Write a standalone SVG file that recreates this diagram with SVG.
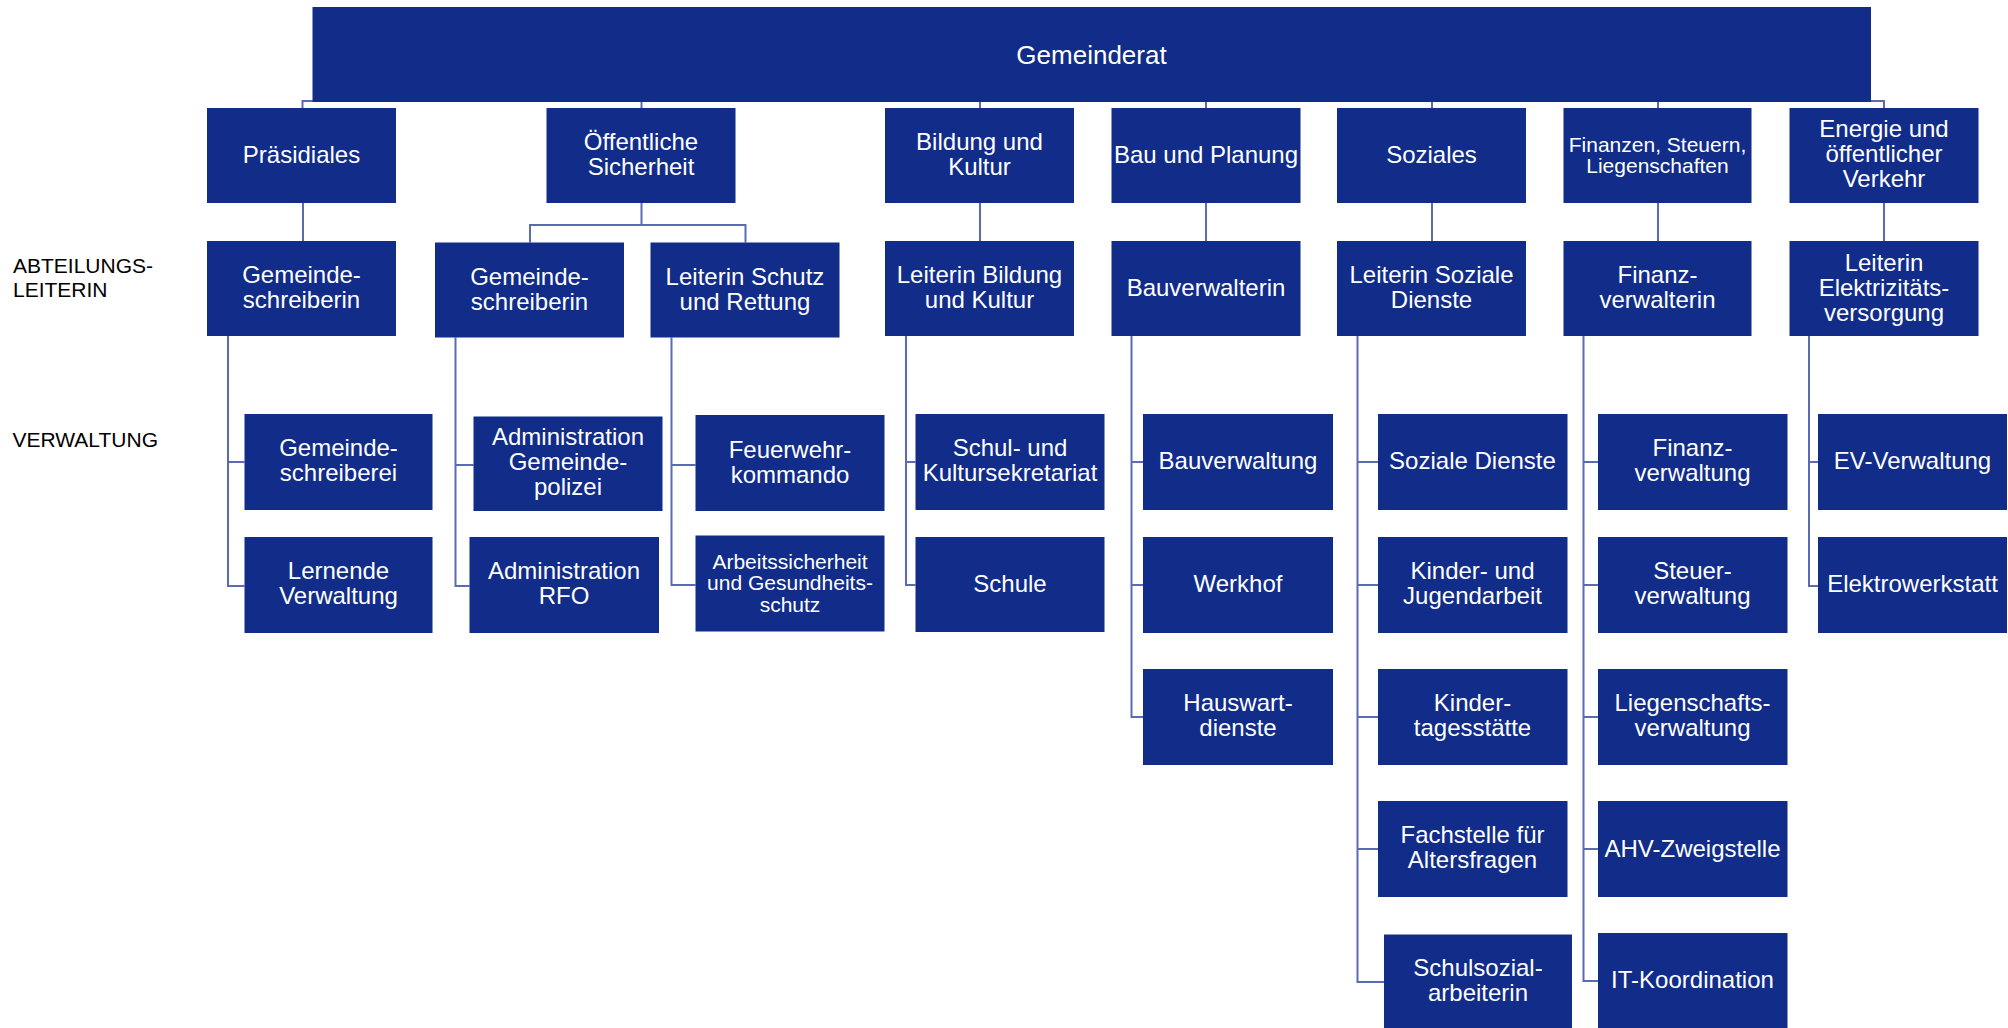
<svg xmlns="http://www.w3.org/2000/svg" width="2008" height="1028" viewBox="0 0 2008 1028">
<style>
.b{fill:#112C89}
.t{fill:#ffffff;font-family:"Liberation Sans",Arial,sans-serif;font-size:24px;text-anchor:middle}
.s{font-size:21px}
.g{font-size:26px}
.lbl{fill:#000000;font-family:"Liberation Sans",Arial,sans-serif;font-size:21px}
.c{fill:none;stroke:#5a6bb3;stroke-width:2}
</style>
<rect width="2008" height="1028" fill="#ffffff"/>
<g id="connectors" class="c">
<path d="M302.5 108V101H313"/>
<path d="M641.5 102V108M980 102V108M1206 102V108M1432 102V108M1658 102V108"/>
<path d="M1884 108V101H1871"/>
<path d="M303 203V241"/>
<path d="M641.5 203V225M530 242.5V225H745.5V242.5"/>
<path d="M980 203V241M1206 203V241M1432 203V241M1658 203V241M1884 203V241"/>
<path d="M228 336V586H244.5M228 462H244.5"/>
<path d="M455.5 337.5V586H469.5M455.5 465H473.5"/>
<path d="M671.5 337.5V585H695.5M671.5 465H695.5"/>
<path d="M906 336V585H915.5M906 462H915.5"/>
<path d="M1131.5 336V717H1143M1131.5 462H1143M1131.5 585H1143"/>
<path d="M1357.5 336V982H1384M1357.5 462H1378M1357.5 585H1378M1357.5 717H1378M1357.5 849H1378"/>
<path d="M1583.5 336V981H1598M1583.5 462H1598M1583.5 585H1598M1583.5 717H1598M1583.5 849H1598"/>
<path d="M1809 336V586H1818M1809 462H1818"/>
</g>
<g id="gemeinderat"><rect class="b" x="312.5" y="7" width="1558.5" height="95"/><text class="t g" x="1091.5" y="63.5">Gemeinderat</text></g>
<g id="praesidiales"><rect class="b" x="207" y="108" width="189" height="95"/><text class="t" x="301.5" y="162.5">Präsidiales</text></g>
<g id="oeffentliche-sicherheit"><rect class="b" x="546.5" y="108" width="189" height="95"/><text class="t" x="641" y="149.5">Öffentliche</text><text class="t" x="641" y="174.5">Sicherheit</text></g>
<g id="bildung-kultur"><rect class="b" x="885" y="108" width="189" height="95"/><text class="t" x="979.5" y="149.5">Bildung und</text><text class="t" x="979.5" y="174.5">Kultur</text></g>
<g id="bau-planung"><rect class="b" x="1111.5" y="108" width="189" height="95"/><text class="t" x="1206" y="162.5">Bau und Planung</text></g>
<g id="soziales"><rect class="b" x="1337" y="108" width="189" height="95"/><text class="t" x="1431.5" y="162.5">Soziales</text></g>
<g id="finanzen"><rect class="b" x="1563.5" y="108" width="188" height="95"/><text class="t s" x="1657.5" y="152">Finanzen, Steuern,</text><text class="t s" x="1657.5" y="173">Liegenschaften</text></g>
<g id="energie"><rect class="b" x="1789.5" y="108" width="189" height="95"/><text class="t" x="1884" y="137">Energie und</text><text class="t" x="1884" y="162">öffentlicher</text><text class="t" x="1884" y="187">Verkehr</text></g>

<g id="gemeindeschreiberin-1"><rect class="b" x="207" y="241" width="189" height="95"/><text class="t" x="301.5" y="283">Gemeinde-</text><text class="t" x="301.5" y="308">schreiberin</text></g>
<g id="gemeindeschreiberin-2"><rect class="b" x="435" y="242.5" width="189" height="95"/><text class="t" x="529.5" y="284.5">Gemeinde-</text><text class="t" x="529.5" y="309.5">schreiberin</text></g>
<g id="leiterin-schutz"><rect class="b" x="650.5" y="242.5" width="189" height="95"/><text class="t" x="745" y="284.5">Leiterin Schutz</text><text class="t" x="745" y="309.5">und Rettung</text></g>
<g id="leiterin-bildung"><rect class="b" x="885" y="241" width="189" height="95"/><text class="t" x="979.5" y="283">Leiterin Bildung</text><text class="t" x="979.5" y="308">und Kultur</text></g>
<g id="bauverwalterin"><rect class="b" x="1111.5" y="241" width="189" height="95"/><text class="t" x="1206" y="295.5">Bauverwalterin</text></g>
<g id="leiterin-soziale"><rect class="b" x="1337" y="241" width="189" height="95"/><text class="t" x="1431.5" y="283">Leiterin Soziale</text><text class="t" x="1431.5" y="308">Dienste</text></g>
<g id="finanzverwalterin"><rect class="b" x="1563.5" y="241" width="188" height="95"/><text class="t" x="1657.5" y="283">Finanz-</text><text class="t" x="1657.5" y="308">verwalterin</text></g>
<g id="leiterin-elektrizitaet"><rect class="b" x="1789.5" y="241" width="189" height="95"/><text class="t" x="1884" y="270.5">Leiterin</text><text class="t" x="1884" y="295.5">Elektrizitäts-</text><text class="t" x="1884" y="320.5">versorgung</text></g>

<g id="gemeindeschreiberei"><rect class="b" x="244.5" y="414" width="188" height="96"/><text class="t" x="338.5" y="456">Gemeinde-</text><text class="t" x="338.5" y="481">schreiberei</text></g>
<g id="lernende-verwaltung"><rect class="b" x="244.5" y="537" width="188" height="96"/><text class="t" x="338.5" y="579">Lernende</text><text class="t" x="338.5" y="604">Verwaltung</text></g>
<g id="admin-gemeindepolizei"><rect class="b" x="473.5" y="416.5" width="189" height="94.5"/><text class="t" x="568" y="445">Administration</text><text class="t" x="568" y="470">Gemeinde-</text><text class="t" x="568" y="495">polizei</text></g>
<g id="admin-rfo"><rect class="b" x="469.5" y="537" width="189.5" height="96"/><text class="t" x="564" y="579">Administration</text><text class="t" x="564" y="604">RFO</text></g>
<g id="feuerwehrkommando"><rect class="b" x="695.5" y="415" width="189" height="96"/><text class="t" x="790" y="458">Feuerwehr-</text><text class="t" x="790" y="483">kommando</text></g>
<g id="arbeitssicherheit"><rect class="b" x="695.5" y="535.5" width="189" height="96"/><text class="t s" x="790" y="568.5">Arbeitssicherheit</text><text class="t s" x="790" y="590">und Gesundheits-</text><text class="t s" x="790" y="611.5">schutz</text></g>
<g id="schul-kultursekretariat"><rect class="b" x="915.5" y="414" width="189" height="96"/><text class="t" x="1010" y="456">Schul- und</text><text class="t" x="1010" y="481">Kultursekretariat</text></g>
<g id="schule"><rect class="b" x="915.5" y="537" width="189" height="95"/><text class="t" x="1010" y="591.5">Schule</text></g>
<g id="bauverwaltung"><rect class="b" x="1143" y="414" width="190" height="96"/><text class="t" x="1238" y="468.5">Bauverwaltung</text></g>
<g id="werkhof"><rect class="b" x="1143" y="537" width="190" height="96"/><text class="t" x="1238" y="592">Werkhof</text></g>
<g id="hauswartdienste"><rect class="b" x="1143" y="669" width="190" height="96"/><text class="t" x="1238" y="711">Hauswart-</text><text class="t" x="1238" y="736">dienste</text></g>
<g id="soziale-dienste"><rect class="b" x="1378" y="414" width="189.5" height="96"/><text class="t" x="1472.5" y="469">Soziale Dienste</text></g>
<g id="kinder-jugendarbeit"><rect class="b" x="1378" y="537" width="189.5" height="96"/><text class="t" x="1472.5" y="579">Kinder- und</text><text class="t" x="1472.5" y="604">Jugendarbeit</text></g>
<g id="kindertagesstaette"><rect class="b" x="1378" y="669" width="189.5" height="96"/><text class="t" x="1472.5" y="711">Kinder-</text><text class="t" x="1472.5" y="736">tagesstätte</text></g>
<g id="fachstelle-altersfragen"><rect class="b" x="1378" y="801" width="189.5" height="96"/><text class="t" x="1472.5" y="843">Fachstelle für</text><text class="t" x="1472.5" y="868">Altersfragen</text></g>
<g id="schulsozialarbeiterin"><rect class="b" x="1384" y="934.5" width="188" height="96"/><text class="t" x="1478" y="976">Schulsozial-</text><text class="t" x="1478" y="1001">arbeiterin</text></g>
<g id="finanzverwaltung"><rect class="b" x="1598" y="414" width="189.5" height="96"/><text class="t" x="1692.5" y="456">Finanz-</text><text class="t" x="1692.5" y="481">verwaltung</text></g>
<g id="steuerverwaltung"><rect class="b" x="1598" y="537" width="189.5" height="96"/><text class="t" x="1692.5" y="579">Steuer-</text><text class="t" x="1692.5" y="604">verwaltung</text></g>
<g id="liegenschaftsverwaltung"><rect class="b" x="1598" y="669" width="189.5" height="96"/><text class="t" x="1692.5" y="711">Liegenschafts-</text><text class="t" x="1692.5" y="736">verwaltung</text></g>
<g id="ahv-zweigstelle"><rect class="b" x="1598" y="801" width="189.5" height="96"/><text class="t" x="1692.5" y="856.5">AHV-Zweigstelle</text></g>
<g id="it-koordination"><rect class="b" x="1598" y="933" width="189.5" height="96"/><text class="t" x="1692.5" y="988">IT-Koordination</text></g>
<g id="ev-verwaltung"><rect class="b" x="1818" y="414" width="189" height="96"/><text class="t" x="1912.5" y="469">EV-Verwaltung</text></g>
<g id="elektrowerkstatt"><rect class="b" x="1818" y="537" width="189" height="96"/><text class="t" x="1912.5" y="592">Elektrowerkstatt</text></g>

<g id="labels">
<text class="lbl" x="13" y="273">ABTEILUNGS-</text>
<text class="lbl" x="13" y="297">LEITERIN</text>
<text class="lbl" x="12.5" y="447">VERWALTUNG</text>
</g>
</svg>
